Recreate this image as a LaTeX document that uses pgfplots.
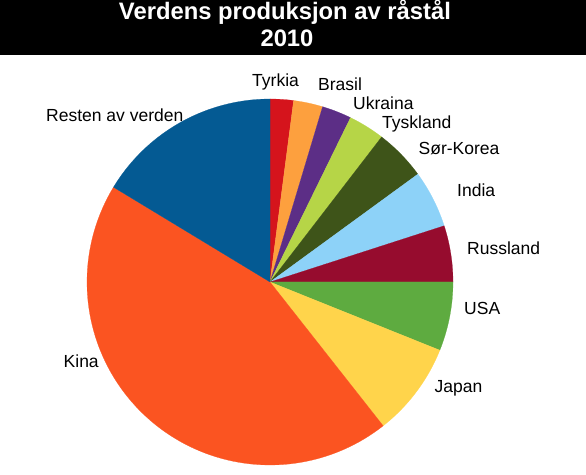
\documentclass[border=0pt]{standalone}
\usepackage{pgfplots}
\usepackage{pgfplotstable}
\pgfplotsset{compat=1.18}
\usepackage{fontspec}
\setmainfont{Liberation Sans}

\definecolor{cTyr}{HTML}{D5141C}
\definecolor{cBra}{HTML}{FDA03E}
\definecolor{cUkr}{HTML}{5C2E86}
\definecolor{cTys}{HTML}{B6D547}
\definecolor{cKor}{HTML}{3E5419}
\definecolor{cInd}{HTML}{8DD2F8}
\definecolor{cRus}{HTML}{960C2E}
\definecolor{cUSA}{HTML}{5EAB40}
\definecolor{cJap}{HTML}{FFD44B}
\definecolor{cKin}{HTML}{FB5421}
\definecolor{cRes}{HTML}{045A93}

% share in percent, clockwise from 12 o'clock; label position in pixels (left, baseline)
\pgfplotstableread{
name share col lx ly
Tyrkia 2.06 cTyr 252 87
Brasil 2.58 cBra 318 91
Ukraina 2.61 cUkr 353 109.5
Tyskland 3.19 cTys 382 128.5
Sør-Korea 4.53 cKor 418.5 155
India 5.06 cInd 457 197
Russland 4.97 cRus 467 254.5
USA 6.08 cUSA 464 314.5
Japan 8.31 cJap 434.5 392.3
Kina 44.28 cKin 63.5 367.3
{Resten av verden} 16.33 cRes 46 121.5
}\steel

\newcommand\labelfont{\fontsize{17.5}{20}\selectfont}
\newcommand\titlefont{\bfseries\fontsize{23.8}{27}\selectfont}

\begin{document}
\begin{tikzpicture}
\begin{axis}[
    width=586pt, height=474pt, scale only axis,
    xmin=0, xmax=586, ymin=0, ymax=474,
    hide axis, clip=false,
]
\fill[white] (0,0) rectangle (586,474);
\fill[black] (0,419) rectangle (586,474);
\node[white, anchor=base, inner sep=0pt, font=\titlefont] at (285,454) {Verdens produksjon av råstål};
\node[white, anchor=base, inner sep=0pt, font=\titlefont] at (287,427.3) {2010};

\def\cum{0}
\pgfplotsforeachungrouped \i in {0,...,10}{%
    \pgfplotstablegetelem{\i}{share}\of\steel \let\sh\pgfplotsretval
    \pgfplotstablegetelem{\i}{col}\of\steel \let\cc\pgfplotsretval
    \pgfplotstablegetelem{\i}{name}\of\steel \let\nm\pgfplotsretval
    \pgfplotstablegetelem{\i}{lx}\of\steel \let\lx\pgfplotsretval
    \pgfplotstablegetelem{\i}{ly}\of\steel \let\ly\pgfplotsretval
    \pgfmathsetmacro\aa{90-3.6*\cum}
    \pgfmathsetmacro\cum{\cum+\sh}
    \pgfmathsetmacro\bb{90-3.6*\cum}
    \pgfmathsetmacro\ly{474-\ly}
    \edef\temp{%
        \noexpand\addplot[fill=\cc, draw=\cc, line width=0.2pt, domain=\bb:\aa,
            samples=90, variable=\noexpand\t]
            ({270+183*cos(\noexpand\t)}, {192+183*sin(\noexpand\t)}) -- (270,192) -- cycle;
        \noexpand\node[anchor=base west, inner sep=0pt, font=\noexpand\labelfont]
            at (\lx,\ly) {\nm};
    }%
    \temp
}
\end{axis}
\end{tikzpicture}
\end{document}
